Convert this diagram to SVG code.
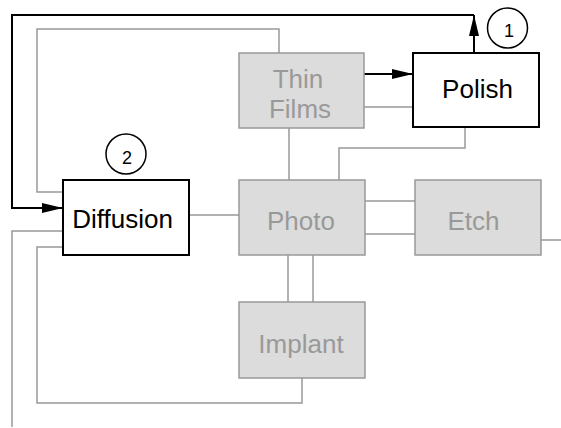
<svg xmlns="http://www.w3.org/2000/svg" width="561" height="428" viewBox="0 0 561 428">
<defs>
<marker id="ah" markerUnits="userSpaceOnUse" markerWidth="22" markerHeight="12" refX="21" refY="5" orient="auto">
<path d="M0,0 L21,5 L0,10 Z" fill="#000"/>
</marker>
<style>
.g{fill:none;stroke:#999;stroke-width:1.5}
.k{fill:none;stroke:#000;stroke-width:2}
.gb{fill:#dcdcdc;stroke:#999;stroke-width:1.5}
.wb{fill:#fff;stroke:#000;stroke-width:2}
.gt{font-family:"Liberation Sans",Arial,sans-serif;font-size:26px;fill:#999;text-anchor:middle}
.kt{font-family:"Liberation Sans",Arial,sans-serif;font-size:26px;fill:#000;text-anchor:middle}
.nt{font-family:"Liberation Sans",Arial,sans-serif;font-size:18px;fill:#000;text-anchor:middle}
.c{fill:#fff;stroke:#000;stroke-width:1.5}
</style>
</defs>
<g id="connectors">
<path class="g" d="M63,192 H37 V29 H279 V53"/>
<path class="g" d="M63,231 H12 V427"/>
<path class="g" d="M63,247 H37 V403 H302 V378"/>
<path class="g" d="M189,215 H239"/>
<path class="g" d="M289,128 V180"/>
<path class="g" d="M465,127 V148 H339 V180"/>
<path class="g" d="M364,107 H413"/>
<path class="g" d="M365,201 H415"/>
<path class="g" d="M365,234 H415"/>
<path class="g" d="M288,255 V302"/>
<path class="g" d="M313,255 V302"/>
<path class="g" d="M541,240 H561"/>
<path class="k" d="M364,74 H413" marker-end="url(#ah)"/>
<path class="k" d="M474,53 V15" marker-end="url(#ah)"/>
<path class="k" d="M474,15 H12 V208 H63" marker-end="url(#ah)"/>
</g>
<g id="thinfilms">
<rect class="gb" x="239" y="53" width="125" height="75"/>
<text class="gt" x="298" y="88">Thin</text>
<text class="gt" x="300" y="118">Films</text>
</g>
<g id="polish">
<rect class="wb" x="413" y="53" width="126" height="74"/>
<text class="kt" x="477.5" y="98">Polish</text>
</g>
<g id="diffusion">
<rect class="wb" x="63" y="180" width="126" height="75"/>
<text class="kt" x="122.5" y="228">Diffusion</text>
</g>
<g id="photo">
<rect class="gb" x="239" y="180" width="126" height="75"/>
<text class="gt" x="301" y="230">Photo</text>
</g>
<g id="etch">
<rect class="gb" x="415" y="180" width="126" height="75"/>
<text class="gt" x="473.5" y="230">Etch</text>
</g>
<g id="implant">
<rect class="gb" x="239" y="302" width="126" height="76"/>
<text class="gt" x="301" y="353">Implant</text>
</g>
<g id="badge1">
<circle class="c" cx="507.5" cy="28" r="20"/>
<text class="nt" x="509" y="37">1</text>
</g>
<g id="badge2">
<circle class="c" cx="126" cy="154" r="20"/>
<text class="nt" x="127" y="164">2</text>
</g>
</svg>
